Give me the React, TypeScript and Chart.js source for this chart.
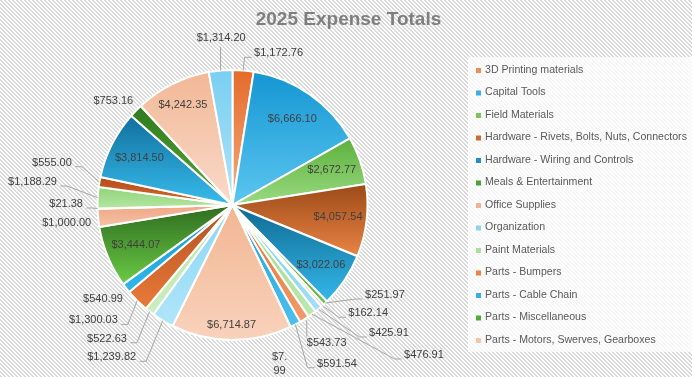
import React, { useEffect, useRef } from "react";
import { Chart, registerables } from "chart.js";

Chart.register(...registerables);

const chartTitle = "2025 Expense Totals";

const categories = [
  "3D Printing materials",
  "Capital Tools",
  "Field Materials",
  "Hardware - Rivets, Bolts, Nuts, Connectors",
  "Hardware - Wiring and Controls",
  "Meals & Entertainment",
  "Office Supplies",
  "Organization",
  "Paint Materials",
  "Parts - Bumpers",
  "Parts - Cable Chain",
  "Parts - Miscellaneous",
  "Parts - Motors, Swerves, Gearboxes",
  "Category 14",
  "Category 15",
  "Category 16",
  "Category 17",
  "Category 18",
  "Category 19",
  "Category 20",
  "Category 21",
  "Category 22",
  "Category 23",
  "Category 24",
  "Category 25",
  "Category 26",
];

const expenseTotals = [
  1172.76, 6666.1, 2672.77, 4057.54, 3022.06, 251.97, 162.14, 425.91, 476.91,
  543.73, 591.54, 7.99, 6714.87, 1239.82, 522.63, 1300.03, 540.99, 3444.07,
  1000.0, 21.38, 1188.29, 555.0, 3814.5, 753.16, 4242.35, 1314.2,
];

// number of legend entries visible in the (truncated) legend
const visibleLegendCount = 13;

// ---- styles (kept apart from the data) ----
const sliceTop = [
  "#E56B2B", "#1496D2", "#5DB03C", "#9C4A18", "#0F6A92", "#3E8E24", "#EFA27A",
  "#6ECAF0", "#98D880", "#E46A2A", "#1AA0DC", "#45A02A", "#F2B692", "#8AD6F4",
  "#B5E3A3", "#B2501E", "#1596CC", "#2F6B1F", "#EFA684", "#8AD6F4", "#8ED479",
  "#B44C1A", "#10709E", "#2F7A1E", "#F2B896", "#7ACFF2",
];
const sliceBottom = [
  "#F3AC80", "#5CC6F0", "#9ADB82", "#EA8444", "#34B8EA", "#62BF44", "#F6C4A6",
  "#A5E0F8", "#BEE8AE", "#F29C6C", "#4CC0EE", "#5CB83A", "#F9D2BC", "#B0E5FA",
  "#CDEEC0", "#EA7A3A", "#2EB8EA", "#6ACB45", "#F5C2A6", "#B0E5FA", "#B4E6A2",
  "#D8692E", "#38BCEC", "#58AA38", "#FADACA", "#AEE3F9",
];
const legendSwatch = [
  "#EE8C55", "#38AEE2", "#78C55A", "#CF6A30", "#2191C4", "#4FA534", "#F3B290",
  "#8AD5F4", "#ABE098", "#EB8048", "#33B0E5", "#50AC32", "#F6C4A6",
];

// label layout: inside labels use a radius factor, outside labels an offset
// from the slice's outer mid point, plus whether a leader line is drawn
type LabelLayout =
  | { kind: "in"; rf: number }
  | { kind: "out"; dx: number; dy: number; leader: boolean; wrap?: boolean };
const labelLayout: LabelLayout[] = [
  { kind: "out", dx: 35.4, dy: -17.1, leader: true },
  { kind: "in", rf: 0.778 },
  { kind: "in", rf: 0.779 },
  { kind: "in", rf: 0.787 },
  { kind: "in", rf: 0.789 },
  { kind: "out", dx: 59.6, dy: -8, leader: true },
  { kind: "out", dx: 45.6, dy: 7.7, leader: true },
  { kind: "out", dx: 70.4, dy: 23.9, leader: true },
  { kind: "out", dx: 111.9, dy: 40.9, leader: true },
  { kind: "out", dx: 22.3, dy: 23.4, leader: true },
  { kind: "out", dx: 41.5, dy: 39.3, leader: true },
  { kind: "out", dx: -11, dy: 36.8, leader: false, wrap: true },
  { kind: "in", rf: 0.889 },
  { kind: "out", dx: -51.1, dy: 36.7, leader: true },
  { kind: "out", dx: -42.6, dy: 27.2, leader: true },
  { kind: "out", dx: -43.8, dy: 19.8, leader: true },
  { kind: "out", dx: -23.1, dy: 11.2, leader: false },
  { kind: "in", rf: 0.775 },
  { kind: "out", dx: -31.4, dy: 5.4, leader: false },
  { kind: "out", dx: -31.4, dy: -4.7, leader: true },
  { kind: "out", dx: -65.2, dy: -15.7, leader: true },
  { kind: "out", dx: -47.5, dy: -19.3, leader: true },
  { kind: "in", rf: 0.772 },
  { kind: "out", dx: -22.5, dy: -9.5, leader: false },
  { kind: "in", rf: 0.824 },
  { kind: "out", dx: 0.6, dy: -32.2, leader: true },
];

const LABEL_FONT = '11px "Liberation Sans", Arial, sans-serif';
const LEGEND_FONT = '10.6px "Liberation Sans", Arial, sans-serif';
const TITLE_FONT = 'bold 19px "Liberation Sans", Arial, sans-serif';

const fmt = (v: number) =>
  "$" + v.toLocaleString("en-US", { minimumFractionDigits: 2, maximumFractionDigits: 2 });

function sliceGradient(ctx: any) {
  const chart = ctx.chart;
  const i = ctx.dataIndex;
  const area = chart.chartArea;
  if (!area || i === undefined) return sliceTop[i ?? 0];
  const data: number[] = ctx.dataset.data;
  const total = data.reduce((a, b) => a + b, 0);
  let before = 0;
  for (let k = 0; k < i; k++) before += data[k];
  const a0 = -Math.PI / 2 + (before / total) * Math.PI * 2;
  const a1 = a0 + (data[i] / total) * Math.PI * 2;
  const cx = (area.left + area.right) / 2;
  const cy = (area.top + area.bottom) / 2;
  const r = (Math.min(area.right - area.left, area.bottom - area.top) - 2) / 2;
  let yMin = cy;
  let yMax = cy;
  const steps = 64;
  for (let s = 0; s <= steps; s++) {
    const a = a0 + ((a1 - a0) * s) / steps;
    const y = cy + Math.sin(a) * r;
    if (y < yMin) yMin = y;
    if (y > yMax) yMax = y;
  }
  if (yMax - yMin < 1) yMax = yMin + 1;
  const g = chart.ctx.createLinearGradient(0, yMin, 0, yMax);
  g.addColorStop(0, sliceTop[i]);
  g.addColorStop(1, sliceBottom[i]);
  return g;
}

const backgroundPlugin = {
  id: "stripedBackground",
  beforeDraw(chart: any) {
    const { ctx, width, height } = chart;
    const pc = document.createElement("canvas");
    pc.width = 4;
    pc.height = 4;
    const p = pc.getContext("2d")!;
    p.fillStyle = "#FFFFFF";
    p.fillRect(0, 0, 4, 4);
    p.fillStyle = "#D9D9D9";
    for (let y = 0; y < 4; y++) {
      for (let x = 0; x < 4; x++) {
        const m = (((x - y) % 4) + 4) % 4;
        if (m === 0 || m === 1) p.fillRect(x, y, 1, 1);
      }
    }
    const pattern = ctx.createPattern(pc, "repeat");
    ctx.save();
    ctx.fillStyle = pattern;
    ctx.fillRect(0, 0, width, height);
    // legend panel
    ctx.fillStyle = "rgba(255,255,255,0.78)";
    ctx.fillRect(468, 57, width - 468, 295);
    ctx.restore();
  },
};

const labelsPlugin = {
  id: "excelLabels",
  afterDatasetsDraw(chart: any) {
    const { ctx } = chart;
    const meta = chart.getDatasetMeta(0);
    const values: number[] = chart.data.datasets[0].data;
    ctx.save();
    ctx.font = LABEL_FONT;
    ctx.textBaseline = "middle";
    ctx.textAlign = "center";
    meta.data.forEach((arc: any, i: number) => {
      const { x, y, startAngle, endAngle, outerRadius } = arc.getProps(
        ["x", "y", "startAngle", "endAngle", "outerRadius"],
        true
      );
      const mid = (startAngle + endAngle) / 2;
      const text = fmt(values[i]);
      const lay = labelLayout[i];
      ctx.fillStyle = "#404040";
      if (lay.kind === "in") {
        const lx = x + Math.cos(mid) * outerRadius * lay.rf;
        const ly = y + Math.sin(mid) * outerRadius * lay.rf;
        ctx.fillText(text, lx, ly);
        return;
      }
      const px = x + Math.cos(mid) * outerRadius;
      const py = y + Math.sin(mid) * outerRadius;
      const lx = px + lay.dx;
      const ly = py + lay.dy;
      if (lay.wrap) {
        const cut = text.indexOf(".") + 1;
        ctx.fillText(text.slice(0, cut), lx, ly - 7);
        ctx.fillText(text.slice(cut), lx, ly + 7);
        return;
      }
      ctx.fillText(text, lx, ly);
      if (!lay.leader) return;
      const w = ctx.measureText(text).width;
      const left = lx - w / 2;
      const right = lx + w / 2;
      ctx.strokeStyle = "#A6A6A6";
      ctx.lineWidth = 1;
      ctx.beginPath();
      if (px >= left - 5 && px <= right + 5) {
        const vx = Math.min(Math.max(px, left), right);
        if (ly < py) {
          ctx.moveTo(vx, ly + 8.5);
          ctx.lineTo(vx, py);
        } else {
          ctx.moveTo(vx, py + 1);
          ctx.lineTo(vx, ly - 6);
        }
      } else if (px < left) {
        const ax = left - 2.5;
        const ay = ly + 4;
        ctx.moveTo(ax, ay);
        ctx.lineTo(ax - 7, ay);
        ctx.lineTo(px, py);
      } else {
        const ax = right + 3.5;
        const ay = ly + 4;
        ctx.moveTo(ax, ay);
        ctx.lineTo(ax + 6.5, ay);
        ctx.lineTo(px, py);
      }
      ctx.stroke();
    });
    ctx.restore();
  },
  afterDraw(chart: any) {
    const { ctx } = chart;
    ctx.save();
    // title
    ctx.font = TITLE_FONT;
    ctx.fillStyle = "#7F7F7F";
    ctx.textAlign = "center";
    ctx.textBaseline = "alphabetic";
    ctx.fillText(chartTitle, 348.5, 25);
    // legend (truncated like the original)
    ctx.font = LEGEND_FONT;
    ctx.textAlign = "left";
    ctx.textBaseline = "middle";
    for (let i = 0; i < visibleLegendCount; i++) {
      const y = 70 + i * 22.5;
      ctx.fillStyle = legendSwatch[i];
      ctx.fillRect(476, y - 2, 5, 5);
      ctx.fillStyle = "#595959";
      ctx.fillText(chart.data.labels[i], 485, y);
    }
    ctx.restore();
  },
};

export default function App() {
  const canvasRef = useRef<HTMLCanvasElement | null>(null);

  useEffect(() => {
    const canvas = canvasRef.current;
    if (!canvas) return;
    const chart = new Chart(canvas, {
      type: "pie",
      data: {
        labels: categories,
        datasets: [
          {
            data: expenseTotals,
            backgroundColor: sliceGradient as any,
            borderColor: "#FFFFFF",
            borderWidth: 2,
          },
        ],
      },
      options: {
        responsive: false,
        animation: false,
        devicePixelRatio: 1,
        events: [],
        layout: { padding: { left: 96.5, right: 323.5, top: 69, bottom: 36 } },
        plugins: {
          legend: { display: false },
          title: { display: false },
          tooltip: { enabled: false },
        },
      },
      plugins: [backgroundPlugin, labelsPlugin],
    });
    return () => chart.destroy();
  }, []);

  return (
    <div style={{ position: "fixed", left: 0, top: 0, width: 692, height: 377 }}>
      <canvas ref={canvasRef} width={692} height={377} style={{ display: "block" }} />
    </div>
  );
}
